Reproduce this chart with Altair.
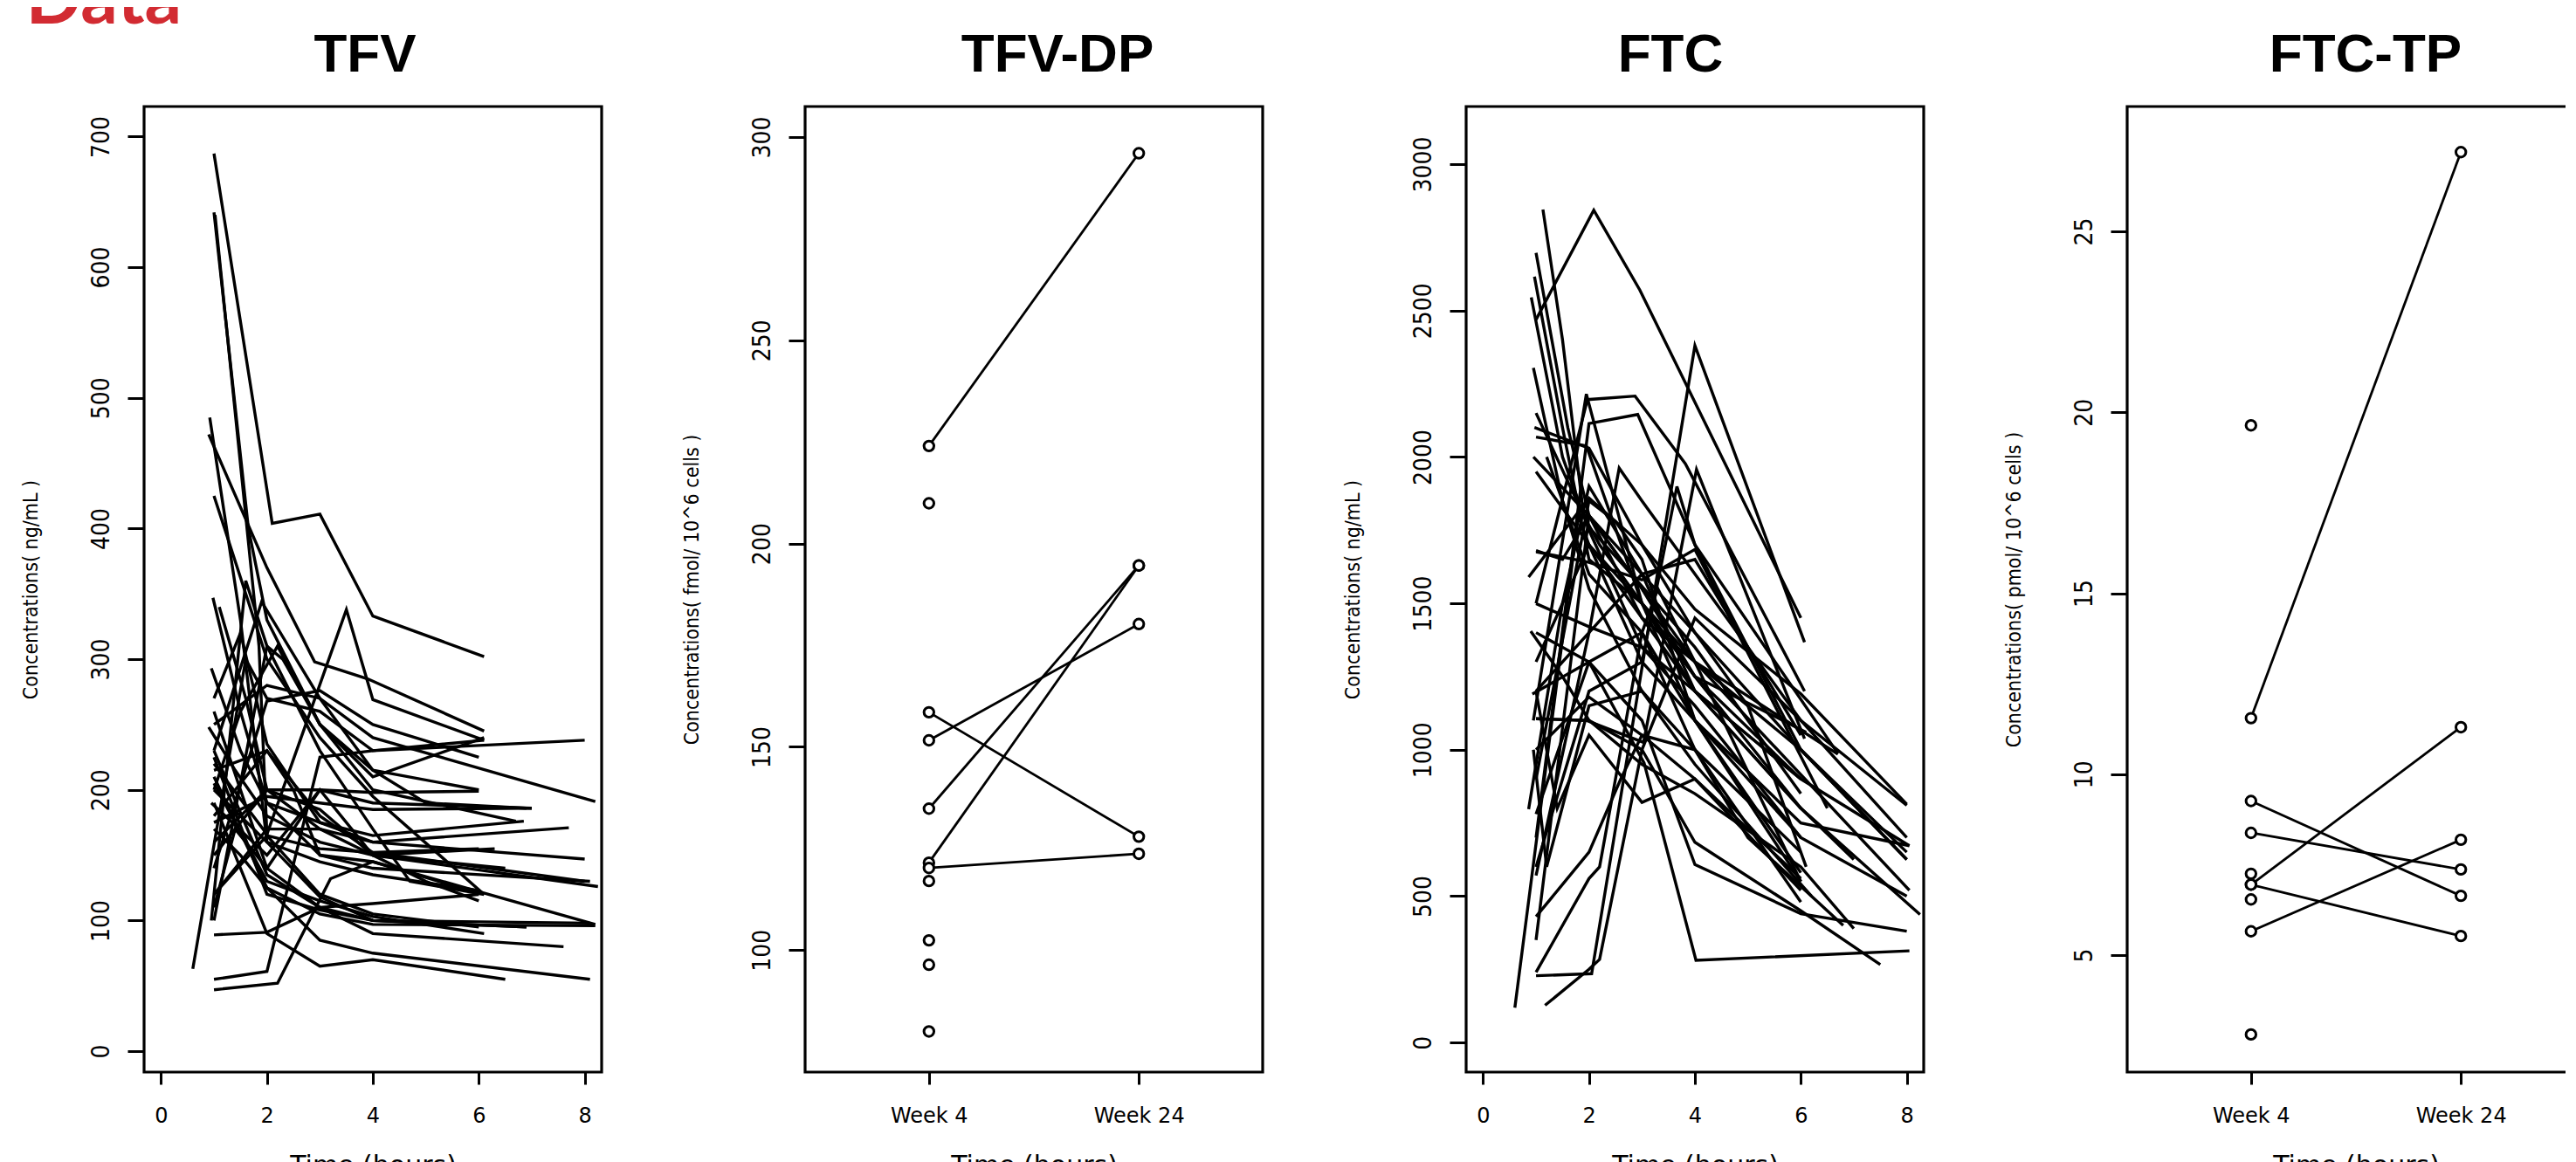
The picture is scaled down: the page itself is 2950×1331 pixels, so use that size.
import altair as alt
import pandas as pd

# ---------------- data ----------------
TFV_LINES = [
    [(1.0, 687), (2.1, 404), (3.0, 411), (4.0, 333), (6.1, 302)],
    [(1.0, 642), (1.65, 400), (2.0, 330), (3.0, 250), (4.0, 215), (6.0, 200)],
    [(1.02, 640), (1.85, 310), (2.0, 165), (3.0, 120), (4.0, 105), (6.0, 95)],
    [(0.9, 472), (2.0, 370), (2.9, 298), (3.9, 285), (6.1, 245)],
    [(0.92, 485), (1.5, 330), (2.0, 160), (3.0, 118), (4.0, 100), (6.9, 95)],
    [(1.0, 425), (2.0, 300), (3.0, 240), (4.0, 195), (6.1, 120)],
    [(0.98, 347), (1.5, 260), (2.0, 190), (3.0, 150), (4.0, 140), (8.1, 130)],
    [(1.1, 340), (1.6, 270), (2.0, 200), (3.0, 170), (4.0, 150), (8.25, 126)],
    [(0.95, 293), (1.5, 230), (2.0, 190), (3.0, 175), (4.0, 160), (8.0, 147)],
    [(0.9, 248), (1.4, 215), (2.0, 180), (3.0, 160), (4.0, 150), (6.3, 155)],
    [(0.6, 63), (1.6, 300), (2.0, 270), (3.0, 260), (4.0, 230), (6.1, 238)],
    [(1.0, 47), (2.2, 52), (3.2, 132), (4.0, 145), (6.0, 121)],
    [(1.0, 55), (2.0, 61), (3.0, 225), (4.0, 230), (8.0, 238)],
    [(1.0, 89), (2.0, 91), (3.0, 110), (4.0, 113), (6.0, 120)],
    [(0.95, 100), (1.6, 360), (2.0, 310), (3.0, 230), (4.0, 170), (4.7, 130), (6.1, 120)],
    [(1.0, 230), (1.9, 344), (3.0, 270), (4.0, 215), (5.0, 190), (6.9, 186)],
    [(1.0, 200), (1.5, 260), (2.2, 310), (3.0, 250), (4.0, 200), (6.7, 176)],
    [(1.0, 225), (2.0, 120), (3.0, 108), (4.0, 100), (8.1, 98)],
    [(1.0, 210), (2.0, 125), (3.0, 105), (4.0, 97), (8.2, 96)],
    [(1.0, 260), (2.0, 140), (3.0, 110), (4.0, 100), (6.9, 95)],
    [(1.0, 180), (2.0, 230), (3.0, 180), (4.0, 152), (8.0, 130)],
    [(1.0, 160), (2.0, 200), (3.0, 185), (4.0, 150), (6.5, 140)],
    [(1.0, 140), (2.0, 268), (3.0, 276), (4.0, 250), (6.0, 225)],
    [(1.0, 215), (2.0, 230), (2.5, 200), (3.0, 150), (4.0, 145), (8.2, 97)],
    [(1.0, 150), (2.0, 200), (3.0, 200), (4.0, 198), (6.0, 199)],
    [(1.0, 110), (1.4, 170), (2.0, 140), (3.0, 200), (4.0, 190), (7.0, 186)],
    [(1.0, 120), (2.0, 170), (3.0, 170), (4.0, 160), (7.7, 171)],
    [(0.95, 190), (2.0, 150), (3.0, 200), (4.0, 150), (5.0, 130), (6.0, 115)],
    [(1.0, 250), (2.0, 280), (3.0, 270), (4.0, 240), (8.2, 191)],
    [(1.0, 200), (2.0, 160), (3.0, 145), (4.0, 135), (6.0, 123)],
    [(1.0, 170), (1.5, 150), (2.0, 125), (3.0, 85), (4.0, 75), (8.1, 55)],
    [(1.0, 190), (2.0, 90), (3.0, 65), (4.0, 70), (6.5, 55)],
    [(1.0, 230), (2.0, 135), (3.0, 110), (4.0, 90), (7.6, 80)],
    [(1.0, 205), (2.0, 130), (3.0, 115), (4.0, 103), (6.1, 90)],
    [(1.0, 270), (1.5, 320), (2.0, 235), (3.0, 175), (4.0, 165), (6.85, 176)],
    [(1.0, 100), (2.0, 310), (2.3, 300), (3.0, 250), (4.0, 210), (6.1, 240)],
    [(1.0, 220), (2.0, 166), (3.5, 338), (4.0, 269), (6.1, 238)],
    [(1.0, 120), (2.0, 165), (3.0, 155), (4.0, 152), (6.0, 155)],
    [(1.0, 175), (2.0, 195), (3.0, 190), (4.0, 185), (7.0, 186)],
]

FTC_LINES = [
    [(1.0, 2469), (2.09, 2843), (2.96, 2570), (6.0, 1450)],
    [(1.13, 2845), (1.5, 2400), (1.9, 1800), (2.2, 1700), (3.0, 1500), (4.0, 1250), (6.1, 1060)],
    [(1.0, 2697), (1.6, 2100), (2.0, 1800), (3.0, 1450), (4.0, 1300), (6.0, 1000), (8.0, 625)],
    [(0.97, 2616), (1.5, 2100), (2.0, 1650), (3.0, 1500), (4.0, 1100), (6.0, 750), (8.05, 672)],
    [(0.91, 2545), (1.5, 2000), (2.0, 1750), (3.0, 1350), (4.0, 1200), (6.0, 800), (7.0, 625)],
    [(0.95, 2304), (1.5, 1850), (2.0, 1550), (3.0, 1200), (4.0, 1000), (6.0, 650)],
    [(0.97, 2101), (2.0, 2030), (3.0, 1700), (4.0, 1480), (6.0, 1191), (8.0, 814)],
    [(0.95, 2000), (2.0, 1800), (3.0, 1550), (4.0, 1300), (6.7, 985)],
    [(1.0, 2068), (1.95, 2038), (3.0, 1500), (4.0, 1250), (6.0, 900)],
    [(1.0, 1500), (1.97, 2196), (2.87, 2208), (3.82, 1977), (6.07, 1200)],
    [(1.0, 700), (2.0, 2114), (2.92, 2145), (4.0, 1700), (6.7, 987)],
    [(1.0, 228), (2.05, 235), (4.0, 2380), (6.07, 1367)],
    [(1.0, 1106), (1.95, 1100), (3.03, 1025), (4.03, 1957), (6.07, 1038)],
    [(1.0, 600), (2.0, 1200), (3.0, 1300), (3.66, 1899), (4.0, 1700), (6.0, 1000), (8.0, 650)],
    [(1.0, 570), (2.0, 1400), (2.57, 1962), (3.0, 1850), (4.0, 1600), (6.0, 1100), (8.0, 700)],
    [(0.95, 1100), (1.95, 2215), (3.0, 1500), (4.0, 1200), (6.0, 800)],
    [(0.6, 119), (1.8, 1800), (2.0, 1700), (3.0, 1300), (4.0, 1100), (6.0, 700)],
    [(1.17, 127), (2.0, 250), (2.2, 284), (3.0, 1000), (4.0, 1450), (6.0, 1100), (8.0, 810)],
    [(0.86, 797), (1.5, 1500), (2.0, 1900), (3.0, 1600), (4.0, 1200), (6.0, 900)],
    [(0.86, 1590), (2.0, 1860), (3.0, 1700), (4.0, 1400), (5.0, 1150), (6.1, 600)],
    [(1.0, 1676), (2.0, 1640), (3.0, 1580), (4.0, 1684), (6.5, 800)],
    [(1.0, 1499), (2.0, 1420), (3.0, 1350), (4.0, 1150), (6.0, 700), (8.0, 500)],
    [(0.9, 1405), (1.5, 1250), (2.0, 1100), (3.0, 1000), (4.0, 684), (6.0, 450), (7.5, 266)],
    [(0.93, 1190), (2.0, 1300), (3.0, 1100), (4.0, 608), (6.0, 440), (8.0, 380)],
    [(1.0, 1106), (2.0, 1100), (3.0, 950), (4.0, 850), (6.0, 600), (7.0, 389)],
    [(1.0, 1400), (2.0, 1300), (3.04, 955), (4.02, 281), (8.05, 313)],
    [(1.0, 1000), (2.0, 1180), (3.0, 1050), (4.0, 900), (6.0, 520)],
    [(1.0, 430), (2.0, 650), (2.6, 900), (3.0, 1050), (4.0, 1000), (6.0, 480)],
    [(1.0, 240), (2.0, 560), (2.2, 600), (3.0, 1400), (3.3, 1550), (4.0, 1300), (6.0, 550)],
    [(1.0, 1200), (2.0, 1400), (3.0, 1600), (4.0, 1650), (6.0, 1050)],
    [(1.0, 900), (2.0, 1850), (2.5, 1780), (3.0, 1650), (4.0, 1100), (6.0, 550)],
    [(0.95, 1000), (1.2, 600), (2.0, 1150), (3.0, 1200), (4.0, 950), (6.2, 500)],
    [(1.0, 1200), (1.4, 800), (2.0, 1050), (3.0, 820), (4.0, 900), (6.0, 560)],
    [(1.0, 350), (2.0, 1800), (3.0, 1550), (4.0, 1250), (6.0, 800), (8.25, 437)],
    [(1.0, 1680), (1.5, 1650), (2.0, 1800), (3.0, 1600), (4.0, 1400), (6.0, 1000), (8.0, 625)],
    [(1.0, 1950), (2.0, 1700), (3.0, 1500), (4.0, 1300), (8.05, 520)],
    [(1.0, 1300), (2.0, 1700), (3.0, 1450), (4.0, 1200), (6.0, 900), (8.05, 672)],
    [(1.2, 2000), (2.0, 1600), (3.0, 1400), (4.0, 1100), (6.0, 580)],
    [(1.0, 2150), (2.0, 1760), (2.8, 1600), (4.0, 1350), (6.0, 850)],
    [(1.0, 780), (2.0, 1300), (3.0, 1400), (4.0, 1000), (5.0, 700), (6.8, 400)],
]

WEEK_POS = [1, 2]
WEEK_LABELS = ["Week 4", "Week 24"]

TFVDP_W4 = [224.0, 209.9, 158.5, 151.6, 134.8, 121.5, 120.2, 117.0, 102.4, 96.4, 80.0]
TFVDP_W24 = [296.0, None, 127.9, 180.2, 194.6, 194.6, 123.7, None, None, None, None]

FTCTP_W4 = [19.64, 11.55, 9.26, 8.38, 7.25, 6.95, 6.95, 6.54, 5.66, 2.81]
FTCTP_W24 = [None, 27.19, 6.64, 7.37, None, 11.30, 5.53, None, 8.19, None]

TITLES = ["TFV", "TFV-DP", "FTC", "FTC-TP"]
TITLE_DX = [-9, 27, -28, 11]
YTITLES = ["Concentrations( ng/mL )", "Concentrations( fmol/ 10^6 cells )",
           "Concentrations( ng/mL )", "Concentrations( pmol/ 10^6 cells )"]
YTICKS = [[0, 100, 200, 300, 400, 500, 600, 700],
          [100, 150, 200, 250, 300],
          [0, 500, 1000, 1500, 2000, 2500, 3000],
          [5, 10, 15, 20, 25]]
YDOMAINS = [[-16, 723], [70, 307.5], [-101, 3197], [1.77, 28.45]]
TIME_TICKS = [0, 2, 4, 6, 8]

# ---------------- styling ----------------
W, H = 524, 1106
NARROW = "DejaVu Sans Condensed"
WIDE = "DejaVu Sans"


def yaxis(i):
    return alt.Axis(values=YTICKS[i], format="d", title=YTITLES[i], grid=False, domain=False,
                    tickSize=19, tickWidth=3, tickColor="black",
                    labelAngle=270, labelAlign="center", labelBaseline="bottom",
                    labelPadding=16, labelFont=NARROW, labelFontSize=28, labelColor="black",
                    labelOverlap=False, labelFlush=False,
                    titleFont=NARROW, titleFontSize=23, titleFontWeight="normal", titleColor="black",
                    titleAngle=270, titleAlign="center", titleBaseline="middle",
                    titleX=-130, titleY=H / 2)


def xaxis(values, label_expr=None):
    kw = dict(values=values, grid=False, domain=False, tickSize=14, tickWidth=3,
              tickColor="black", labelFont=WIDE, labelFontSize=24, labelPadding=24,
              labelColor="black", labelFlush=False, labelOverlap=False,
              title="Time (hours)", titleFont=WIDE, titleFontSize=30,
              titleFontWeight="normal", titleColor="black",
              titleAlign="center", titleBaseline="top", titleX=W / 2, titleY=92)
    if label_expr:
        kw["labelExpr"] = label_expr
    return alt.Axis(**kw)


def ptitle(i):
    return alt.TitleParams(TITLES[i], font="Liberation Sans", fontSize=62, fontWeight="bold",
                           color="black", baseline="alphabetic", offset=-22, dx=TITLE_DX[i])


def spaghetti(lines, i):
    rows = [{"id": k, "t": t, "v": v} for k, ln in enumerate(lines) for t, v in ln]
    df = pd.DataFrame(rows)
    return alt.Chart(df, title=ptitle(i)).mark_line(color="black", strokeWidth=3.4).encode(
        x=alt.X("t:Q", scale=alt.Scale(domain=[-0.32, 8.32], nice=False, zero=False),
                axis=xaxis(TIME_TICKS)),
        y=alt.Y("v:Q", scale=alt.Scale(domain=YDOMAINS[i], nice=False, zero=False),
                axis=yaxis(i)),
        detail="id:N",
        order="t:Q",
    ).properties(width=W, height=H)


def paired(w4, w24, i):
    pts, segs = [], []
    for k, (a, b) in enumerate(zip(w4, w24)):
        pts.append({"id": k, "x": WEEK_POS[0], "v": a})
        if b is not None:
            pts.append({"id": k, "x": WEEK_POS[1], "v": b})
            segs.append({"id": k, "x": WEEK_POS[0], "v": a})
            segs.append({"id": k, "x": WEEK_POS[1], "v": b})
    expr = "datum.value == %d ? '%s' : '%s'" % (WEEK_POS[0], WEEK_LABELS[0], WEEK_LABELS[1])
    xs = alt.X("x:Q", scale=alt.Scale(domain=[0.41, 2.59], nice=False, zero=False),
               axis=xaxis(WEEK_POS, expr))
    ys = alt.Y("v:Q", scale=alt.Scale(domain=YDOMAINS[i], nice=False, zero=False),
               axis=yaxis(i))
    lines = alt.Chart(pd.DataFrame(segs)).mark_line(color="black", strokeWidth=2.8).encode(
        x=xs, y=ys, detail="id:N")
    dots = alt.Chart(pd.DataFrame(pts)).mark_point(
        shape="circle", filled=True, fill="white", stroke="black", strokeWidth=3,
        size=130, opacity=1).encode(x=xs, y=ys)
    return alt.layer(lines, dots, title=ptitle(i)).properties(width=W, height=H)


p1 = spaghetti(TFV_LINES, 0)
p2 = paired(TFVDP_W4, TFVDP_W24, 1)
p3 = spaghetti(FTC_LINES, 2)
p4 = paired(FTCTP_W4, FTCTP_W24, 3)

chart = alt.hconcat(
    p1, p2, p3, p4, spacing=233, bounds="flush",
    title=alt.TitleParams("Data", font="Lato", fontSize=84, fontWeight="bold",
                          color="#D22B32", anchor="start", baseline="alphabetic",
                          offset=-81, dx=7),
    padding={"left": 14, "top": -48, "right": -24, "bottom": 5},
).configure(background="white").configure_view(stroke="black", strokeWidth=3.2)

chart.save("out.html", embed_options={"renderer": "svg", "actions": False})
